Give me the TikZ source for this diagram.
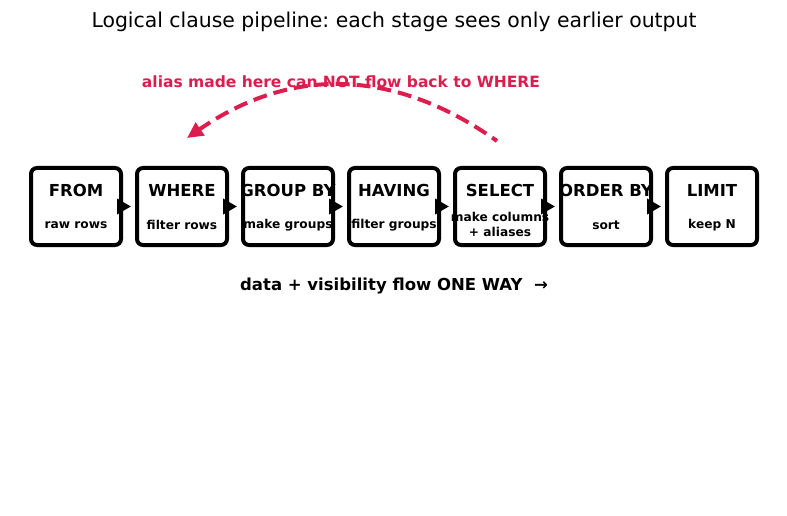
\documentclass[tikz,border=0pt]{standalone}
\usepackage{fontspec}
\setmainfont{DejaVu Sans}
\usetikzlibrary{arrows.meta}
\definecolor{aliasred}{RGB}{220,30,78}

\tikzset{
  stage/.style={draw, line width=4pt, rounded corners=6pt, minimum width=90pt, minimum height=77pt},
  stagename/.style={font=\fontsize{16.5}{19}\selectfont\bfseries, inner sep=0pt},
  stagejob/.style={font=\fontsize{12.2}{15}\selectfont\bfseries, inner sep=0pt, align=center},
  flow/.style={line width=4pt, -{Triangle[length=14pt,width=15pt]}, shorten <=-3pt, shorten >=4pt}
}

\begin{document}
\frenchspacing
\begin{tikzpicture}[x=1pt, y=1pt]
        \useasboundingbox (0,0) rectangle (787,515);

        \node(title) at (394, 493) {\fontsize{20.4}{24}\selectfont Logical clause pipeline: each stage sees only earlier output};

        % the seven stages
        \node[stage](from) at (76, 308.5) {};
        \node[stagename](fromN) at (76, 325) {FROM};
        \node[stagejob](fromJ) at (76, 290) {raw rows};

        \node[stage](where) at (182, 308.5) {};
        \node[stagename](whereN) at (182, 325) {WHERE};
        \node[stagejob](whereJ) at (182, 290) {filter rows};

        \node[stage](groupby) at (288, 308.5) {};
        \node[stagename](groupbyN) at (288, 325) {GROUP BY};
        \node[stagejob](groupbyJ) at (288, 290) {make groups};

        \node[stage](having) at (394, 308.5) {};
        \node[stagename](havingN) at (394, 325) {HAVING};
        \node[stagejob](havingJ) at (394, 290) {filter groups};

        \node[stage](select) at (500, 308.5) {};
        \node[stagename](selectN) at (500, 325) {SELECT};
        \node[stagejob](selectJ) at (500, 291) {make columns\\+ aliases};

        \node[stage](orderby) at (606, 308.5) {};
        \node[stagename](orderbyN) at (606, 325) {ORDER BY};
        \node[stagejob](orderbyJ) at (606, 290) {sort};

        \node[stage](limit) at (712, 308.5) {};
        \node[stagename](limitN) at (712, 325) {LIMIT};
        \node[stagejob](limitJ) at (712, 290) {keep N};

        % one way flow
        \draw[flow] (from.east) to (where.west);
        \draw[flow] (where.east) to (groupby.west);
        \draw[flow] (groupby.east) to (having.west);
        \draw[flow] (having.east) to (select.west);
        \draw[flow] (select.east) to (orderby.west);
        \draw[flow] (orderby.east) to (limit.west);

        \node(oneway) at (394, 229) {\fontsize{16.5}{19}\selectfont\bfseries data + visibility flow ONE WAY\ \ →};

        % the alias can not go back
        \coordinate(aliasS) at (497, 374);
        \coordinate(aliasE) at (187, 377);
        \draw[aliasred, line width=4pt, dash pattern=on 14pt off 7pt, dash phase=8pt, -{Triangle[length=16pt,width=15pt]}]
            (aliasS) .. controls (393.7, 447.3) and (290.7, 448.7) .. (aliasE);
        \node(aliasL) at (341, 433) {\color{aliasred}\fontsize{15.5}{18}\selectfont\bfseries alias made here can NOT flow back to WHERE};
\end{tikzpicture}
\end{document}
